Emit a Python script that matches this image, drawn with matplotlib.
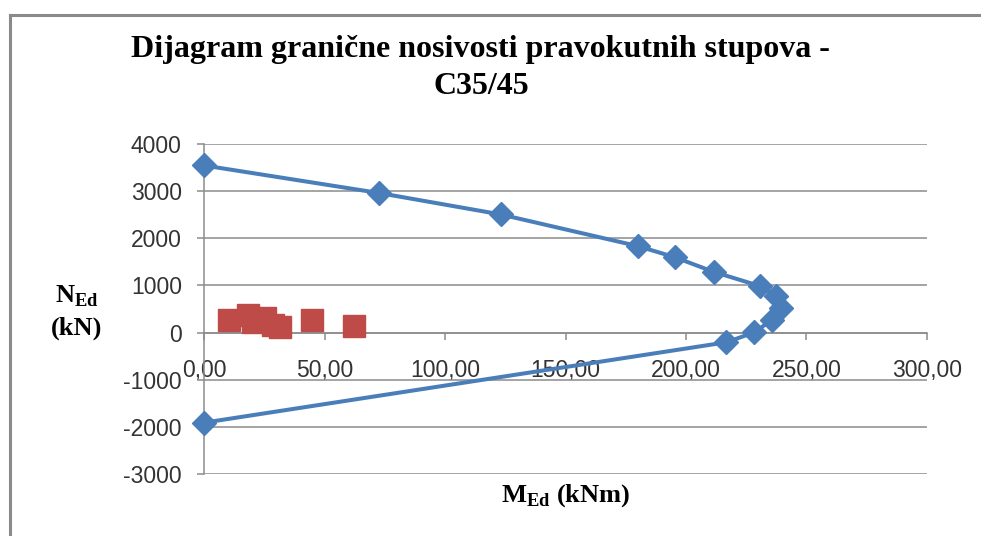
import matplotlib.pyplot as plt
from matplotlib.ticker import FuncFormatter, MultipleLocator
from matplotlib.lines import Line2D

# subscripts in the axis captions use the same serif face
plt.rcParams["mathtext.fontset"] = "custom"
plt.rcParams["mathtext.rm"] = "Liberation Serif"
plt.rcParams["mathtext.bf"] = "Liberation Serif:bold"

# interaction curve (M in kNm, N in kN)
m_curve = [0.0, 72.7, 123.2, 180.1, 195.3, 211.5, 230.9, 237.5, 239.6, 235.8, 228.4, 216.8, 0.0]
n_curve = [3545, 2960, 2505, 1833, 1599, 1288, 983, 786, 524, 276, 6, -206, -1911]

# design load combinations
m_load = [10.4, 18.4, 20.5, 25.3, 28.8, 31.6, 44.7, 62.4]
n_load = [276, 382, 219, 312, 170, 121, 276, 149]

title_lines = ["Dijagram granične nosivosti pravokutnih stupova -", "C35/45"]

W, H = 981, 536
fig = plt.figure(figsize=(W / 100, H / 100), dpi=100)
ax = fig.add_axes([204 / W, 1 - 474 / H, (927 - 204) / W, (474 - 144) / H])

grid_col = "#8c8c8c"
ax.set_xlim(0, 300)
ax.set_ylim(-3000, 4000)
ax.yaxis.set_major_locator(MultipleLocator(1000))
ax.xaxis.set_major_locator(MultipleLocator(50))
ax.xaxis.set_major_formatter(FuncFormatter(lambda v, p: f"{v:.2f}".replace(".", ",")))
ax.yaxis.set_major_formatter(FuncFormatter(lambda v, p: f"{v:.0f}"))
ax.grid(axis="y", color=grid_col, linewidth=1.1)
ax.set_axisbelow(True)

for s in ["top", "right"]:
    ax.spines[s].set_visible(False)
ax.spines["bottom"].set_position(("data", 0))
ax.spines["bottom"].set_color(grid_col)
ax.spines["left"].set_color(grid_col)
ax.spines["bottom"].set_linewidth(1.1)
ax.spines["left"].set_linewidth(1.1)

tick_font = {"family": "Liberation Sans", "size": 16.5}
ax.tick_params(axis="both", color=grid_col, length=5, width=1.1, labelcolor="#333333")
ax.tick_params(axis="x", pad=14)
ax.tick_params(axis="y", pad=11)
for lbl in ax.get_xticklabels() + ax.get_yticklabels():
    lbl.set_fontproperties(tick_font)

ax.plot(m_curve, n_curve, color="#4a7ebb", linewidth=2.9, marker="D",
        markersize=12.5, zorder=3, clip_on=False)
ax.plot(m_load, n_load, linestyle="none", color="#be4b48", marker="s",
        markersize=16, zorder=4)

# titles and axis captions
fig.text(480 / W, 1 - 50 / H, title_lines[0], ha="center", va="center",
         family="Liberation Serif", weight="bold", size=23)
fig.text(481 / W, 1 - 87 / H, title_lines[1], ha="center", va="center",
         family="Liberation Serif", weight="bold", size=23)
fig.text(77 / W, 1 - 296 / H, r"N$_{\mathbf{Ed}}$", ha="center", va="center",
         family="Liberation Serif", weight="bold", size=19)
fig.text(77 / W, 1 - 328 / H, "(kN)", ha="center", va="center",
         family="Liberation Serif", weight="bold", size=19)
fig.text(566 / W, 1 - 496 / H, r"M$_{\mathbf{Ed}}$ (kNm)", ha="center", va="center",
         family="Liberation Serif", weight="bold", size=19)

# outer chart frame
fig.add_artist(Line2D([10 / W, 10 / W], [0, 1 - 15 / H], color="#8a8a8a", linewidth=2.2))
fig.add_artist(Line2D([10 / W, 1], [1 - 15 / H, 1 - 15 / H], color="#8a8a8a", linewidth=2.2))

fig.savefig("out.png", dpi=100)
